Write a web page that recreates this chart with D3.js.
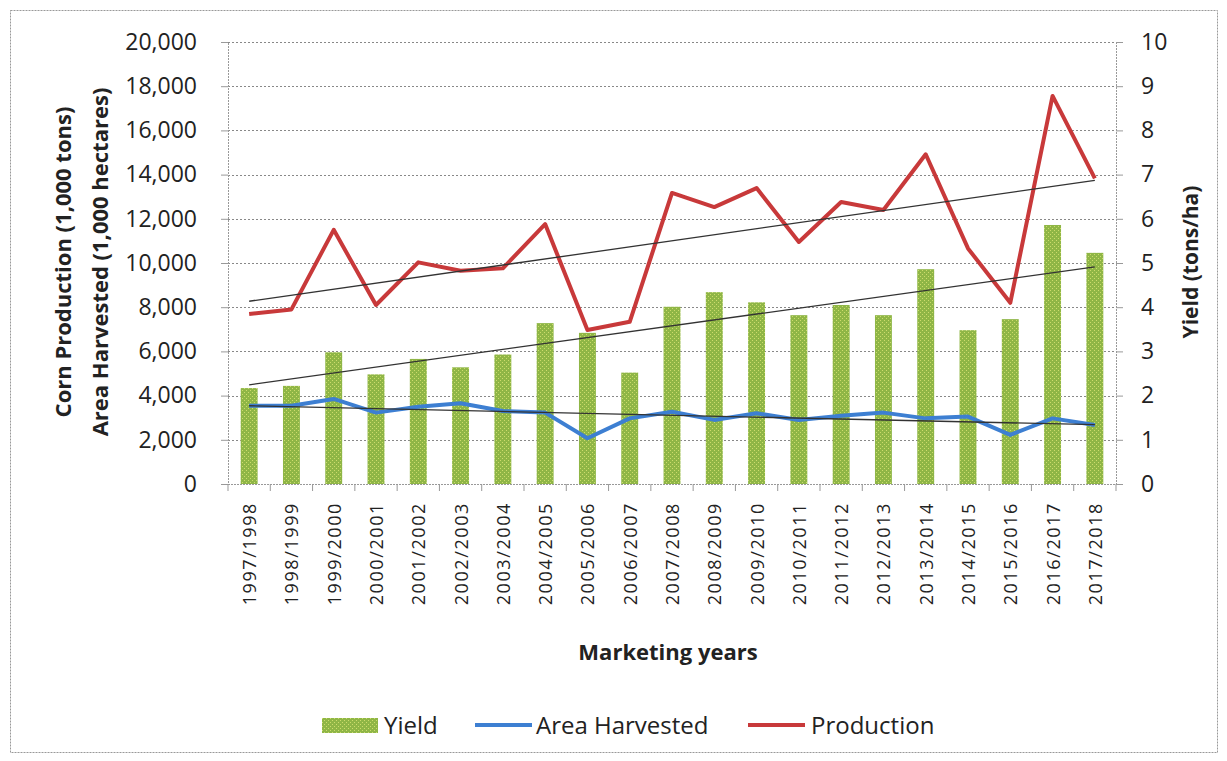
<!DOCTYPE html>
<html>
<head>
<meta charset="utf-8">
<script src="https://cdn.jsdelivr.net/npm/d3@7"></script>
<style>
  body { margin: 0; background: #fff; }
  text { font-family: "Open Sans", Lato, sans-serif; fill: #222; }
</style>
</head>
<body>
<svg id="chart" width="1227" height="761"></svg>
<script>
// marketing years and the three series
let years = ["1997/1998","1998/1999","1999/2000","2000/2001","2001/2002","2002/2003","2003/2004",
  "2004/2005","2005/2006","2006/2007","2007/2008","2008/2009","2009/2010","2010/2011","2011/2012",
  "2012/2013","2013/2014","2014/2015","2015/2016","2016/2017","2017/2018"];
let yieldVals = [2.17,2.22,2.98,2.48,2.83,2.64,2.93,3.64,3.42,2.52,4.01,4.34,4.11,3.82,4.05,3.82,4.86,3.48,3.73,5.86,5.23];
let areaVals = [3540,3540,3850,3230,3500,3650,3300,3230,2070,2970,3270,2900,3200,2900,3090,3230,2970,3050,2220,2970,2670];
let prodVals = [7690,7900,11500,8100,10030,9650,9760,11760,6970,7340,13170,12530,13390,10950,12760,12400,14920,10660,8200,17560,13830];
let leftTicks = [0,2000,4000,6000,8000,10000,12000,14000,16000,18000,20000];
let rightTicks = [0,1,2,3,4,5,6,7,8,9,10];

let svg = d3.select("#chart");
let plotL = 228, plotR = 1116, plotT = 42, plotB = 484;
let red = "#c8393a", blue = "#3d7fd2";

// outer frame
svg.append("rect").attr("x", 10.5).attr("y", 10.5).attr("width", 1207).attr("height", 742)
  .attr("fill", "none").attr("stroke", "#999").attr("stroke-dasharray", "2,1");

let x = d3.scaleBand().domain(years).range([plotL, plotR]).paddingInner(0.6).paddingOuter(0.3);
let xc = d => x(d) + x.bandwidth() / 2;
let yL = d3.scaleLinear().domain([0, 20000]).range([plotB, plotT]);
let yR = d3.scaleLinear().domain([0, 10]).range([plotB, plotT]);

// bar pattern
let defs = svg.append("defs");
let pat = defs.append("pattern").attr("id", "hatch").attr("width", 4).attr("height", 4)
  .attr("patternUnits", "userSpaceOnUse");
pat.append("rect").attr("width", 4).attr("height", 4).attr("fill", "#8fb646");
pat.append("rect").attr("x", 0).attr("y", 0).attr("width", 1).attr("height", 1).attr("fill", "#cddc6c");
pat.append("rect").attr("x", 2).attr("y", 2).attr("width", 1).attr("height", 1).attr("fill", "#cddc6c");

// gridlines
svg.append("g").selectAll("line").data(leftTicks.slice(1)).enter().append("line")
  .attr("x1", plotL).attr("x2", plotR)
  .attr("y1", d => Math.round(yL(d)) + 0.5).attr("y2", d => Math.round(yL(d)) + 0.5)
  .attr("stroke", "#888").attr("stroke-dasharray", "2,2");

// left axis
let axL = svg.append("g").attr("transform", `translate(${plotL},0)`)
  .call(d3.axisLeft(yL).tickValues(leftTicks).tickFormat(d3.format(",")).tickSize(7).tickPadding(24));
axL.select(".domain").attr("stroke", "#999").attr("stroke-dasharray", "2,1");
axL.selectAll(".tick line").attr("stroke", "#999");
axL.selectAll("text").style("font-size", "23px").attr("fill", "#333");

// right axis
let axR = svg.append("g").attr("transform", `translate(${plotR},0)`)
  .call(d3.axisRight(yR).tickValues(rightTicks).tickSize(7).tickPadding(18));
axR.select(".domain").attr("stroke", "#999").attr("stroke-dasharray", "2,1");
axR.selectAll(".tick line").attr("stroke", "#999");
axR.selectAll("text").style("font-size", "23px").attr("fill", "#333");

// bars (yield on right axis)
svg.append("g").selectAll("rect").data(years).enter().append("rect")
  .attr("x", d => x(d)).attr("width", x.bandwidth())
  .attr("y", (d, i) => yR(yieldVals[i])).attr("height", (d, i) => plotB - yR(yieldVals[i]))
  .attr("fill", "url(#hatch)");

// bottom axis
let xEdge = d3.scaleLinear().domain([0, years.length]).range([plotL, plotR]);
svg.append("line").attr("x1", plotL).attr("x2", plotR).attr("y1", plotB + 0.5).attr("y2", plotB + 0.5)
  .attr("stroke", "#999").attr("stroke-dasharray", "2,1");
svg.append("g").selectAll("line").data(d3.range(years.length + 1)).enter().append("line")
  .attr("x1", d => xEdge(d)).attr("x2", d => xEdge(d)).attr("y1", plotB).attr("y2", plotB + 7)
  .attr("stroke", "#999");
svg.append("g").selectAll("text").data(years).enter().append("text")
  .attr("transform", d => `translate(${xc(d) + 7},502) rotate(-90)`)
  .attr("text-anchor", "end").style("font-size", "18px").style("letter-spacing", "1.6px")
  .attr("fill", "#333").text(d => d);

// linear trendlines
function trend(vals, yScale) {
  let n = vals.length, xs = d3.range(n);
  let mx = d3.mean(xs), my = d3.mean(vals);
  let b = d3.sum(xs, i => (i - mx) * (vals[i] - my)) / d3.sum(xs, i => (i - mx) * (i - mx));
  let a = my - b * mx;
  svg.append("line")
    .attr("x1", xc(years[0])).attr("x2", xc(years[n - 1]))
    .attr("y1", yScale(a)).attr("y2", yScale(a + b * (n - 1)))
    .attr("stroke", "#333").attr("stroke-width", 1.3);
}

let lineL = d3.line().x((d, i) => xc(years[i])).y(d => yL(d));
svg.append("path").datum(areaVals).attr("d", lineL).attr("fill", "none")
  .attr("stroke", blue).attr("stroke-width", 4).attr("stroke-linejoin", "round");
svg.append("path").datum(prodVals).attr("d", lineL).attr("fill", "none")
  .attr("stroke", red).attr("stroke-width", 4).attr("stroke-linejoin", "round");

trend(yieldVals, yR);
trend(areaVals, yL);
trend(prodVals, yL);

// axis titles
svg.append("text").attr("transform", "translate(71,262) rotate(-90)").attr("text-anchor", "middle")
  .style("font-size", "22px").style("font-weight", "bold").text("Corn Production (1,000 tons)");
svg.append("text").attr("transform", "translate(108,262) rotate(-90)").attr("text-anchor", "middle")
  .style("font-size", "22px").style("font-weight", "bold").text("Area Harvested (1,000 hectares)");
svg.append("text").attr("transform", "translate(1198,262) rotate(-90)").attr("text-anchor", "middle")
  .style("font-size", "21px").style("font-weight", "bold").text("Yield (tons/ha)");
svg.append("text").attr("x", 668).attr("y", 660).attr("text-anchor", "middle")
  .style("font-size", "22px").style("font-weight", "bold").text("Marketing years");

// legend
let lg = svg.append("g");
lg.append("rect").attr("x", 322).attr("y", 718).attr("width", 56).attr("height", 15).attr("fill", "url(#hatch)");
lg.append("text").attr("x", 384).attr("y", 734).style("font-size", "24px").text("Yield");
lg.append("line").attr("x1", 475).attr("x2", 532).attr("y1", 725).attr("y2", 725)
  .attr("stroke", blue).attr("stroke-width", 4);
lg.append("text").attr("x", 536).attr("y", 734).style("font-size", "24px").text("Area Harvested");
lg.append("line").attr("x1", 748).attr("x2", 805).attr("y1", 725).attr("y2", 725)
  .attr("stroke", red).attr("stroke-width", 4);
lg.append("text").attr("x", 811).attr("y", 734).style("font-size", "24px").text("Production");
</script>
</body>
</html>
